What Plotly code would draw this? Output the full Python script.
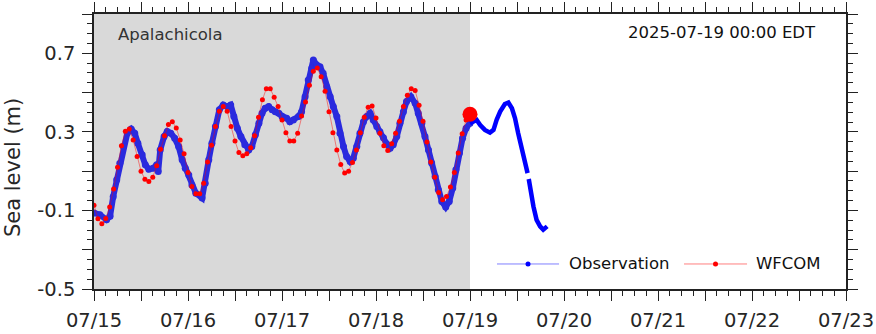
import pandas as pd
import plotly.graph_objects as go

# Station and nowcast time
station = "Apalachicola"
stamp = "2025-07-19 00:00 EDT"
start = pd.Timestamp("2025-07-15 00:00")
nowcast = pd.Timestamp("2025-07-19 00:00")

# WFCOM hourly water level (m), hour 0 .. 96 from 07/15 00:00
wfcom_level = [
    -0.073, -0.142, -0.168, -0.141, -0.083, 0.009, 0.120, 0.229, 0.303, 0.315,
    0.259, 0.174, 0.100, 0.059, 0.047, 0.069, 0.127, 0.212, 0.280, 0.337,
    0.352, 0.320, 0.259, 0.188, 0.093, 0.022, -0.015, -0.015, 0.039, 0.147,
    0.232, 0.327, 0.405, 0.429, 0.405, 0.327, 0.253, 0.195, 0.178, 0.188,
    0.219, 0.280, 0.375, 0.463, 0.520, 0.520, 0.476, 0.429, 0.361, 0.296,
    0.253, 0.253, 0.293, 0.381, 0.452, 0.537, 0.608, 0.625, 0.581, 0.507,
    0.402, 0.296, 0.208, 0.134, 0.090, 0.100, 0.144, 0.208, 0.296, 0.375,
    0.425, 0.432, 0.371, 0.293, 0.229, 0.205, 0.239, 0.293, 0.354, 0.429,
    0.486, 0.520, 0.510, 0.436, 0.354, 0.249, 0.147, 0.069, -0.009, -0.046,
    -0.029, 0.019, 0.093, 0.192, 0.290, 0.360, 0.390,
]
wfcom_hours = list(range(len(wfcom_level)))

# Observed water level before the nowcast time (hours since 07/15 00:00, m)
obs_hours = [
    0.0, 1.5, 3.2, 4.1, 4.9, 5.8, 6.6, 7.5, 8.5, 9.5,
    10.4, 11.2, 12.3, 13.1, 14.0, 15.1, 16.0, 16.4, 16.9, 17.9,
    18.7, 19.6, 20.6, 21.6, 22.5, 23.3, 24.2, 25.0, 26.0, 27.6,
    28.4, 29.3, 30.1, 31.0, 32.0, 33.0, 34.0, 34.9, 35.7, 36.6,
    37.5, 38.5, 39.5, 40.3, 41.2, 42.1, 42.9, 43.7, 44.6, 45.5,
    46.3, 47.2, 48.0, 49.2, 50.0, 50.9, 52.2, 53.0, 53.9, 54.7,
    55.6, 56.0, 56.9, 57.7, 58.5, 59.4, 60.3, 61.1, 62.0, 62.8,
    63.7, 64.5, 65.4, 66.2, 67.1, 67.9, 68.8, 69.6, 70.5, 71.3,
    72.2, 73.0, 73.9, 74.7, 75.6, 76.4, 77.3, 78.1, 79.0, 79.8,
    80.9, 82.0, 82.8, 83.7, 84.5, 85.4, 86.2, 87.1, 87.9, 88.8,
    89.8, 90.7, 91.6, 92.4, 93.3, 94.1, 95.0, 96.0,
]
obs_level = [
    -0.113, -0.122, -0.147, -0.130, -0.030, 0.056, 0.140, 0.225, 0.293, 0.314,
    0.293, 0.242, 0.183, 0.132, 0.110, 0.115, 0.132, 0.098, 0.208, 0.276,
    0.302, 0.293, 0.268, 0.225, 0.158, 0.115, 0.081, 0.030, -0.012, -0.037,
    0.039, 0.158, 0.242, 0.327, 0.412, 0.437, 0.429, 0.437, 0.378, 0.319,
    0.276, 0.234, 0.208, 0.225, 0.285, 0.344, 0.395, 0.420, 0.429, 0.412,
    0.403, 0.395, 0.378, 0.369, 0.352, 0.361, 0.378, 0.403, 0.479, 0.564,
    0.624, 0.666, 0.640, 0.632, 0.598, 0.530, 0.479, 0.429, 0.378, 0.293,
    0.225, 0.174, 0.149, 0.166, 0.225, 0.293, 0.352, 0.378, 0.395, 0.361,
    0.327, 0.300, 0.270, 0.240, 0.217, 0.234, 0.276, 0.344, 0.403, 0.454,
    0.479, 0.446, 0.395, 0.344, 0.276, 0.208, 0.141, 0.073, 0.005, -0.054,
    -0.083, -0.054, 0.014, 0.107, 0.192, 0.268, 0.319, 0.344,
]

# Observed water level after the nowcast time (None marks the data gap)
recent_hours = [
    96.0, 96.8, 97.7, 98.6, 99.8, 101.1, 102.0, 102.8, 103.7, 104.9,
    105.8, 106.7, 107.5, 108.3, 109.2, 110.0, 110.7, 110.85, 111.0, 111.5,
    112.2, 113.0, 113.9, 114.7, 115.7,
]
recent_level = [
    0.344, 0.352, 0.361, 0.335, 0.310, 0.296, 0.310, 0.361, 0.403, 0.442,
    0.449, 0.420, 0.369, 0.293, 0.225, 0.149, 0.090, None, 0.060, -0.012,
    -0.080, -0.148, -0.181, -0.198, -0.181,
]

# Axis ticks
y_major = [-0.5, -0.3, -0.1, 0.1, 0.3, 0.5, 0.7, 0.9]
y_labels = ["-0.5", "", "-0.1", "", "0.3", "", "0.7", ""]
x_days = pd.date_range("2025-07-15", "2025-07-23", freq="12h")
x_labels = [d.strftime("%m/%d") if d.hour == 0 else "" for d in x_days]

FONT = "DejaVu Sans"
TXT = "#262626"


def to_time(hours):
    return [start + pd.Timedelta(hours=h) for h in hours]


fig = go.Figure()

fig.add_trace(go.Scatter(
    x=to_time(obs_hours), y=obs_level, mode="lines+markers",
    line=dict(color="rgb(42,42,222)", width=6),
    marker=dict(color="rgb(42,42,222)", size=7),
    showlegend=False, name="Observation",
))
fig.add_trace(go.Scatter(
    x=to_time(recent_hours), y=recent_level, mode="lines",
    line=dict(color="#0000ff", width=4.5), connectgaps=False,
    showlegend=False, name="Observation",
))
fig.add_trace(go.Scatter(
    x=to_time(wfcom_hours), y=wfcom_level, mode="lines+markers",
    line=dict(color="rgba(255,0,0,0.45)", width=1),
    marker=dict(color="#ff0000", size=5),
    showlegend=False, name="WFCOM",
))
fig.add_trace(go.Scatter(
    x=[to_time(wfcom_hours)[-1]], y=[wfcom_level[-1]], mode="markers",
    marker=dict(color="#ff0000", size=15),
    showlegend=False, name="WFCOM nowcast",
))

# Hindcast period shading
fig.add_shape(type="rect", xref="x", yref="paper", x0=start, x1=nowcast,
              y0=0, y1=1, fillcolor="#d9d9d9", line_width=0, layer="below")

# Legend drawn in paper coordinates
legend_items = [
    ("Observation", "rgba(0,0,255,0.5)", "#0000ff", 0.5359, 0.6184, 0.629),
    ("WFCOM", "rgba(255,0,0,0.5)", "#ff0000", 0.7846, 0.8684, 0.8777),
]
ly = 0.091
for label, lc, mc, x0, x1, tx in legend_items:
    fig.add_shape(type="line", xref="paper", yref="paper", x0=x0, x1=x1,
                  y0=ly, y1=ly, line=dict(color=lc, width=1))
    xc = (x0 + x1) / 2
    fig.add_shape(type="circle", xref="paper", yref="paper",
                  xsizemode="pixel", ysizemode="pixel",
                  xanchor=xc, yanchor=ly, x0=-2.5, x1=2.5, y0=-2.5, y1=2.5,
                  fillcolor=mc, line_width=0)
    fig.add_annotation(x=tx, y=ly, xref="paper", yref="paper", text=label,
                       showarrow=False, xanchor="left", yanchor="middle",
                       font=dict(family=FONT, size=16.5, color="#111"))

fig.add_annotation(x=0.0293, y=0.927, xref="paper", yref="paper", text=station,
                   showarrow=False, xanchor="left", yanchor="middle",
                   font=dict(family=FONT, size=16.5, color="#333"))
fig.add_annotation(x=0.9628, y=0.931, xref="paper", yref="paper", text=stamp,
                   showarrow=False, xanchor="right", yanchor="middle",
                   font=dict(family=FONT, size=16.5, color="#111"))
fig.add_annotation(x=-0.1077, y=0.44, xref="paper", yref="paper",
                   text="Sea level (m)", textangle=-90, showarrow=False,
                   xanchor="center", yanchor="middle",
                   font=dict(family=FONT, size=21, color=TXT))

fig.update_xaxes(
    range=[start, pd.Timestamp("2025-07-23")],
    tickvals=list(x_days), ticktext=x_labels,
    ticks="outside", ticklen=10, tickwidth=1.2, tickcolor="#222",
    minor=dict(dtick=3 * 3600 * 1000, ticks="outside", ticklen=5,
               tickwidth=1.2, tickcolor="#222"),
    showline=True, linecolor="#222", linewidth=1.5, mirror="allticks",
    showgrid=False, zeroline=False, ticklabelstandoff=3, automargin=False,
    tickfont=dict(family=FONT, size=19.5, color=TXT),
)
fig.update_yaxes(
    range=[-0.5, 0.9],
    tickvals=y_major, ticktext=y_labels,
    ticks="outside", ticklen=10, tickwidth=1.2, tickcolor="#222",
    minor=dict(dtick=0.05, tick0=-0.5, ticks="outside", ticklen=5,
               tickwidth=1.2, tickcolor="#222"),
    showline=True, linecolor="#222", linewidth=1.5, mirror="allticks",
    showgrid=False, zeroline=False, ticklabelstandoff=3, automargin=False,
    tickfont=dict(family=FONT, size=19.5, color=TXT),
)

fig.update_layout(
    width=876, height=334,
    margin=dict(l=94, r=30, t=14, b=45, autoexpand=False),
    paper_bgcolor="white", plot_bgcolor="white",
    font=dict(family=FONT, color=TXT),
    showlegend=False,
)

fig.write_html("out.html")
